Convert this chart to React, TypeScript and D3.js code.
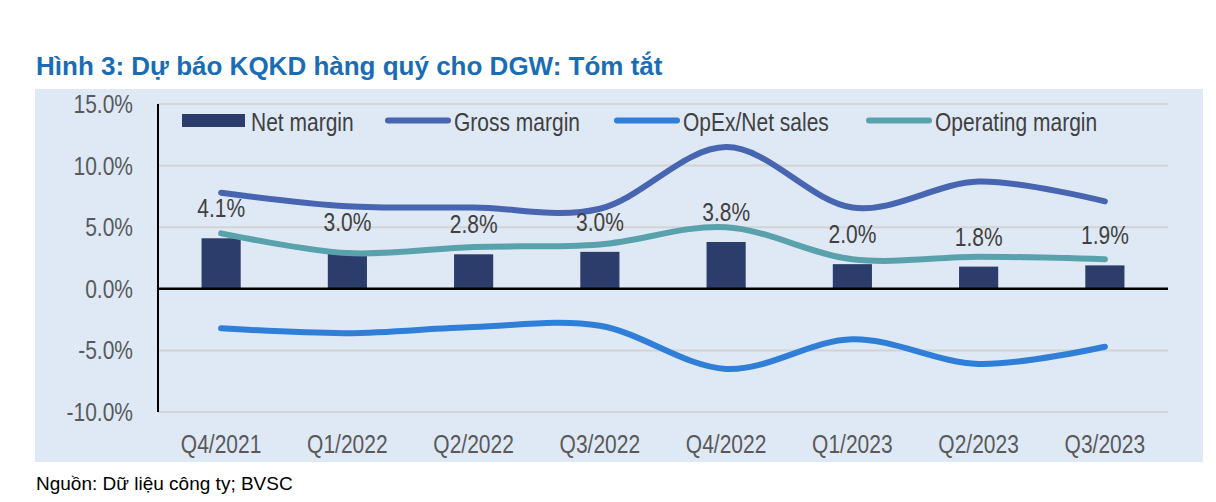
import React from "react";
import * as d3 from "d3";

const categories = ["Q4/2021", "Q1/2022", "Q2/2022", "Q3/2022", "Q4/2022", "Q1/2023", "Q2/2023", "Q3/2023"];
const netMargin = [4.1, 3.0, 2.8, 3.0, 3.8, 2.0, 1.8, 1.9];
const grossMargin = [7.8, 6.7, 6.6, 6.5, 11.5, 6.6, 8.7, 7.1];
const opexNetSales = [-3.2, -3.6, -3.1, -3.0, -6.5, -4.1, -6.1, -4.7];
const operatingMargin = [4.5, 2.9, 3.4, 3.6, 5.0, 2.4, 2.6, 2.4];
const yTicks = [15, 10, 5, 0, -5, -10];

const W = 1216;
const H = 502;
const SANS = "'Liberation Sans', Arial, sans-serif";

const C_BAR = "#2c3c6b";
const C_GROSS = "#4765b0";
const C_OPEX = "#2f7fd8";
const C_OPER = "#5aa2ab";

const pct = (v: number) => d3.format(".1f")(v).replace("\u2212", "-") + "%";

function NText({ x, y, anchor = "start", fill, children }: { x: number; y: number; anchor?: string; fill: string; children: React.ReactNode }) {
  return (
    <text
      transform={`translate(${x},${y}) scale(0.84,1)`}
      textAnchor={anchor}
      fontFamily={SANS}
      fontSize={25}
      fill={fill}
    >
      {children}
    </text>
  );
}

export default function App() {
  const x = d3.scaleBand<string>().domain(categories).range([158, 1168]).paddingInner(0.69).paddingOuter(0.345);
  const y = d3.scaleLinear().domain([-10, 15]).range([412, 104]);
  const cx = (c: string) => (x(c) as number) + x.bandwidth() / 2;
  const line = d3
    .line<number>()
    .x((_, i) => cx(categories[i]))
    .y((v) => y(v))
    .curve(d3.curveCardinal.tension(0));

  const series = [
    { name: "Gross margin", values: grossMargin, color: C_GROSS },
    { name: "OpEx/Net sales", values: opexNetSales, color: C_OPEX },
    { name: "Operating margin", values: operatingMargin, color: C_OPER },
  ];

  const legendX = [182, 385, 614, 866];
  const legendY = 120.5;
  const legendItems = [
    { name: "Net margin", type: "bar", color: C_BAR },
    ...series.map((s) => ({ name: s.name, type: "line", color: s.color })),
  ];

  return (
    <svg width={W} height={H} style={{ position: "absolute", left: 0, top: 0 }}>
      <rect x={0} y={0} width={W} height={H} fill="#ffffff" />
      <text x={36} y={75} fontFamily={SANS} fontWeight="bold" fontSize={26} fill="#1a6db5">
        Hình 3: Dự báo KQKD hàng quý cho DGW: Tóm tắt
      </text>
      <rect x={35} y={89} width={1168} height={373} fill="#dfe9f5" />
      {yTicks.map((t) => (
        <g key={t}>
          {t !== 0 && <line x1={158} x2={1168} y1={y(t)} y2={y(t)} stroke="#d3d3d6" strokeWidth={2} />}
          <NText x={133} y={y(t) + 9} anchor="end" fill="#595959">
            {pct(t)}
          </NText>
        </g>
      ))}
      {categories.map((c, i) => (
        <g key={c}>
          <rect x={x(c)} y={y(netMargin[i])} width={x.bandwidth()} height={y(0) - y(netMargin[i])} fill={C_BAR} />
          <NText x={cx(c)} y={453} anchor="middle" fill="#595959">
            {c}
          </NText>
        </g>
      ))}
      {series.map((s) => (
        <path key={s.name} d={line(s.values) || ""} fill="none" stroke={s.color} strokeWidth={6} strokeLinecap="round" strokeLinejoin="round" />
      ))}
      {categories.map((c, i) => (
        <NText key={c} x={cx(c)} y={y(netMargin[i]) - 21} anchor="middle" fill="#404040">
          {pct(netMargin[i])}
        </NText>
      ))}
      <line x1={158} x2={158} y1={104} y2={412} stroke="#000" strokeWidth={2} />
      <line x1={157} x2={1168} y1={y(0)} y2={y(0)} stroke="#000" strokeWidth={2.5} />
      {legendItems.map((it, i) => (
        <g key={it.name}>
          {it.type === "bar" ? (
            <rect x={legendX[i]} y={legendY - 6.5} width={63} height={13} fill={it.color} />
          ) : (
            <line x1={legendX[i] + 3} x2={legendX[i] + 63} y1={legendY} y2={legendY} stroke={it.color} strokeWidth={6} strokeLinecap="round" />
          )}
          <NText x={legendX[i] + 69} y={legendY + 10} fill="#404040">
            {it.name}
          </NText>
        </g>
      ))}
      <text x={36} y={490} fontFamily={SANS} fontSize={19} fill="#000">
        Nguồn: Dữ liệu công ty; BVSC
      </text>
    </svg>
  );
}
